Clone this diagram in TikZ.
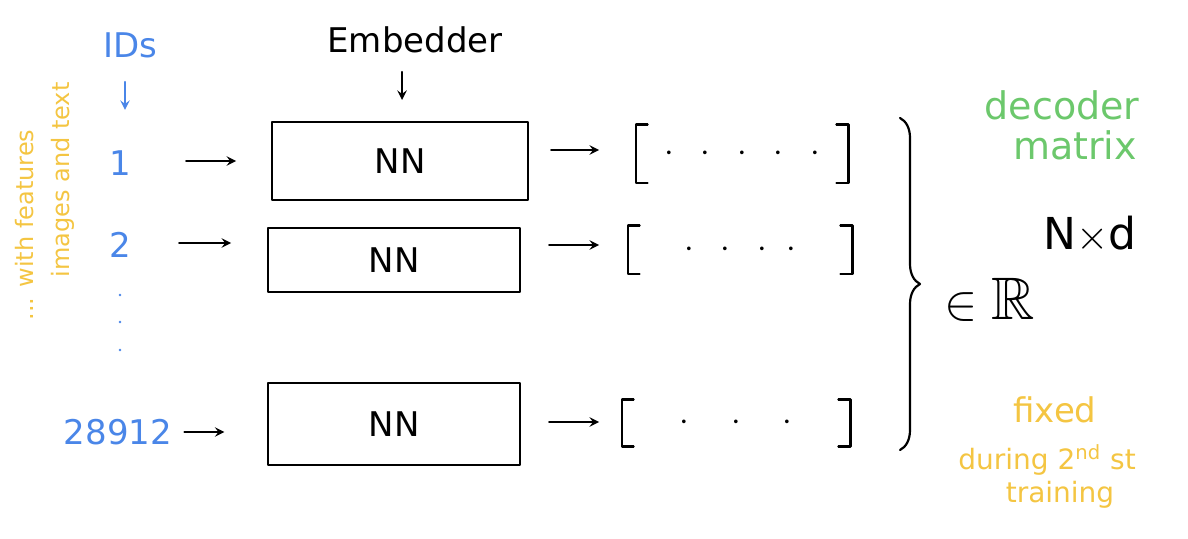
\documentclass[tikz,border=0pt]{standalone}
\usepackage{fontspec}
\usepackage{amssymb}
\setmainfont{DejaVu Sans}
\usetikzlibrary{decorations.pathreplacing}
\definecolor{idblue}{HTML}{4A86E8}
\definecolor{ylw}{HTML}{F4C542}
\definecolor{grn}{HTML}{6CC86C}
\tikzset{x=0.5pt,y=-0.5pt,
 hand/.style={line width=1.1pt,line cap=round,line join=round},
 arr/.style={hand,->,>={stealth}},
 nnbox/.style={draw,hand,minimum height=#1,inner sep=0pt},
 lbl/.style={inner sep=0pt,font=\fontsize{17}{19}\selectfont},
 dot/.style={circle,fill,inner sep=0.6pt}}
\begin{document}
\begin{tikzpicture}
\useasboundingbox (0,0) rectangle (1188,539);
% IDs
\node[lbl,idblue] (ids) at (130,45) {IDs};
\coordinate (idsa) at (125,82); \coordinate (idsb) at (125,110);
\draw[arr,idblue] (idsa) -- (idsb);
\node[lbl,idblue] (i1) at (120,163) {1};
\node[lbl,idblue] (i2) at (120,245) {2};
\node[dot,idblue,inner sep=0.5pt] (d1) at (120,295) {};
\node[dot,idblue,inner sep=0.5pt] (d2) at (120,322) {};
\node[dot,idblue,inner sep=0.5pt] (d3) at (120,350) {};
\node[lbl,idblue] (i3) at (118,432) {28912};
% rotated text
\node[lbl,ylw,rotate=90,font=\fontsize{12}{14}\selectfont] (w1) at (25,225) {... with features};
\node[lbl,ylw,rotate=90,font=\fontsize{12}{14}\selectfont] (w2) at (63,180) {images and text};
% Embedder
\node[lbl] (emb) at (415,40) {Embedder};
\coordinate (ea) at (402,72); \coordinate (eb) at (402,100);
\draw[arr] (ea) -- (eb);
% boxes
\node[nnbox=39pt,minimum width=128pt,lbl] (b1) at (400,161) {NN};
\node[nnbox=32pt,minimum width=126pt,lbl] (b2) at (394,260) {NN};
\node[nnbox=41pt,minimum width=126pt,lbl] (b3) at (394,424) {NN};
\draw[arr] (i1.east)++(55,-2) coordinate (a1s) -- ++(50,0) coordinate (a1e);
\draw[arr] (i2.east)++(48,-2) coordinate (a2s) -- ++(52,0) coordinate (a2e);
\draw[arr] (i3.east)++(12,0) coordinate (a3s) -- ++(40,0) coordinate (a3e);
% vectors
\node[lbl,minimum width=106pt,minimum height=29pt] (v1) at (742,154) {$\cdot\;\;\cdot\;\;\cdot\;\;\cdot\;\;\cdot$};
\node[lbl,minimum width=112pt,minimum height=24pt] (v2) at (740,250) {$\cdot\;\;\cdot\;\;\cdot\;\;\cdot$};
\node[lbl,minimum width=114pt,minimum height=23pt] (v3) at (736,423) {$\cdot\quad\cdot\quad\cdot$};
\foreach \v in {v1,v2,v3}{
 \draw[hand] ([xshift=6pt]\v.north west) -- (\v.north west) -- (\v.south west) -- ++(6pt,0);
 \draw[hand] ([xshift=-6pt]\v.north east) -- (\v.north east) -- (\v.south east) -- ++(-6pt,0);}
\draw[arr] (b1.east)++(22,-11) -- ++(48,0);
\draw[arr] (b2.east)++(28,-15) -- ++(50,0);
\draw[arr] (b3.east)++(28,-2) -- ++(50,0);
% brace
\coordinate (bt) at (900,118); \coordinate (bb) at (900,450);
\draw[hand,decorate,decoration={brace,amplitude=10pt}] (bt) -- (bb);
% R
\node[lbl,font=\fontsize{30}{32}\selectfont] (rr) at (990,300) {$\in\mathbb{R}$};
\node[lbl,font=\fontsize{22}{24}\selectfont] (nd) at (1090,235) {N$\times$d};
% decoder matrix
\node[lbl,grn,font=\fontsize{19}{19}\selectfont] (dm1) at (1062,105) {decoder};
\node[lbl,grn,font=\fontsize{19}{19}\selectfont] (dm2) at (1075,145) {matrix};
% fixed
\node[lbl,ylw,font=\fontsize{17}{17}\selectfont] (fx) at (1055,410) {fixed};
\node[lbl,ylw,anchor=west,font=\fontsize{14}{14}\selectfont] (dr) at (958,460) {during 2\textsuperscript{nd} st};
\node[lbl,ylw,font=\fontsize{14}{14}\selectfont] (tr) at (1060,495) {training};
\end{tikzpicture}
\end{document}
